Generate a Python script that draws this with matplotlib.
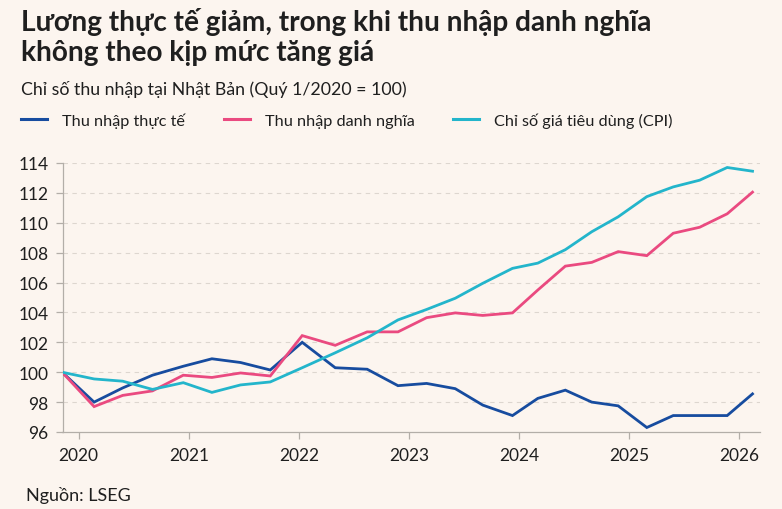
import matplotlib
matplotlib.use("Agg")
import matplotlib.pyplot as plt
from matplotlib.lines import Line2D

# quarterly points, x
dates = [2019.85, 2020.14, 2020.40, 2020.67, 2020.95, 2021.21, 2021.47, 2021.74,
         2022.03, 2022.33, 2022.62, 2022.90, 2023.16, 2023.42, 2023.67, 2023.94,
         2024.17, 2024.42, 2024.66, 2024.90, 2025.16, 2025.40, 2025.64, 2025.89,
         2026.12]
real_income = [100.0, 98.0, 98.95, 99.8, 100.4, 100.9, 100.65, 100.15,
               102.0, 100.3, 100.2, 99.1, 99.25, 98.9, 97.8, 97.1,
               98.25, 98.8, 98.0, 97.75, 96.3, 97.1, 97.1, 97.1, 98.55]
nominal_income = [100.0, 97.7, 98.45, 98.75, 99.8, 99.65, 99.95, 99.75,
                  102.45, 101.8, 102.7, 102.7, 103.65, 103.97, 103.8, 103.97,
                  105.5, 107.1, 107.35, 108.07, 107.8, 109.3, 109.7, 110.6, 112.05]
cpi = [100.0, 99.55, 99.4, 98.85, 99.3, 98.65, 99.15, 99.35,
       100.3, 101.3, 102.3, 103.5, 104.2, 104.95, 105.95, 106.95,
       107.3, 108.2, 109.4, 110.4, 111.75, 112.4, 112.85, 113.7, 113.45]

series_labels = ["Thu nhập thực tế", "Thu nhập danh nghĩa", "Chỉ số giá tiêu dùng (CPI)"]
year_ticks = [2020, 2021, 2022, 2023, 2024, 2025, 2026]
y_ticks = [96, 98, 100, 102, 104, 106, 108, 110, 112, 114]

title_lines = ["Lương thực tế giảm, trong khi thu nhập danh nghĩa",
               "không theo kịp mức tăng giá"]
subtitle = "Chỉ số thu nhập tại Nhật Bản (Quý 1/2020 = 100)"
source = "Nguồn: LSEG"

BG = "#fcf5ef"
TEXT = "#1f1f1f"
COLORS = ["#174c9f", "#ea4a80", "#23b5cb"]
FONT = ["Lato", "DejaVu Sans"]

plt.rcParams["font.family"] = FONT

W, H = 782, 510
fig = plt.figure(figsize=(W / 100, H / 100), dpi=100, facecolor=BG)
ax = fig.add_axes([62.5 / W, 1 - 433 / H, (760 - 62.5) / W, (433 - 164) / H])
ax.set_facecolor(BG)

for vals, color in zip([real_income, nominal_income, cpi], COLORS):
    ax.plot(dates, vals, color=color, lw=2.0, solid_joinstyle="miter", zorder=3)

ax.set_xlim(2019.853, 2026.188)
ax.set_ylim(96, 114)
ax.set_yticks(y_ticks)
ax.set_xticks(year_ticks)
ax.set_xticklabels([str(y) for y in year_ticks])

for s in ["top", "right"]:
    ax.spines[s].set_visible(False)
for s in ["left", "bottom"]:
    ax.spines[s].set_color("#b3aea8")
    ax.spines[s].set_linewidth(0.9)

ax.tick_params(axis="y", length=5, width=0.9, color="#b3aea8", pad=5,
               labelsize=12.5, labelcolor=TEXT)
ax.tick_params(axis="x", length=5, width=0.9, color="#b3aea8", pad=6,
               labelsize=12.5, labelcolor=TEXT)
ax.grid(axis="y", color="#ddd6cf", lw=0.8, linestyle=(0, (4, 4)))
ax.set_axisbelow(True)
for gl in ax.get_ygridlines()[:1]:
    gl.set_visible(False)

# title, subtitle
fig.text(21 / W, 1 - 31 / H, title_lines[0], fontsize=20.2, fontweight="bold",
         color=TEXT, ha="left", va="baseline")
fig.text(21 / W, 1 - 61 / H, title_lines[1], fontsize=20.2, fontweight="bold",
         color=TEXT, ha="left", va="baseline")
fig.text(21 / W, 1 - 95 / H, subtitle, fontsize=12.8, color=TEXT,
         ha="left", va="baseline")

# legend
handles = [Line2D([], [], color=c, lw=2.2) for c in COLORS]
fig.legend(handles, series_labels, loc="center left",
           bbox_to_anchor=(21 / W, 1 - 121 / H), ncol=3, frameon=False,
           fontsize=11.7, handlelength=1.6, handletextpad=0.95,
           columnspacing=2.35, borderpad=0, borderaxespad=0,
           labelcolor=TEXT)

fig.text(26.5 / W, 1 - 501 / H, source, fontsize=13, color=TEXT,
         ha="left", va="baseline")

fig.savefig("out.png", dpi=100, facecolor=BG)
